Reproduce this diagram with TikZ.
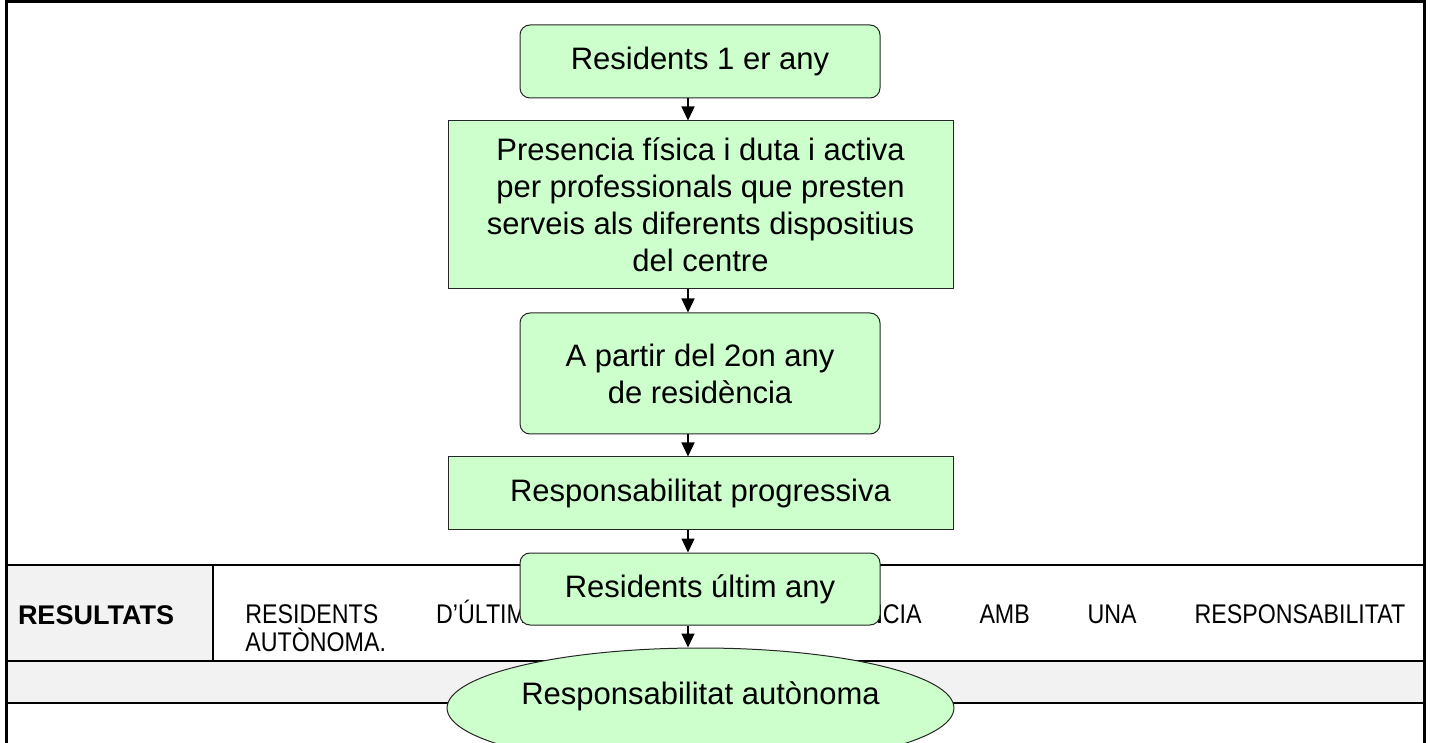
\documentclass[tikz,border=0pt]{standalone}
\usepackage{fontspec}
\setmainfont{Liberation Sans}
\newfontfamily\narrowfont[FakeStretch=0.86]{Liberation Sans}
\usetikzlibrary{shapes.geometric,arrows.meta}
\definecolor{boxgreen}{HTML}{CCFFCC}
\definecolor{cellgrey}{HTML}{F2F2F2}
\tikzset{
  greenbox/.style={draw=black!85, fill=boxgreen, line width=0.5pt, align=center,
    inner sep=0pt, font=\fontsize{15.5}{18.5}\selectfont},
  roundbox/.style={greenbox, rounded corners=5pt},
  flowarrow/.style={-{Triangle[width=6.5pt,length=7pt]}, line width=0.6pt},
  tableline/.style={line width=1pt}
}
\begin{document}
\begin{tikzpicture}[x=0.5pt,y=-0.5pt]
    \useasboundingbox (0,0) rectangle (1431,743);
    \fill[cellgrey] (6,565) rectangle (213,661); % RESULTATS cell
    \fill[cellgrey] (6,661) rectangle (1424,703); % empty grey row
    \draw[tableline] (6,565) -- (1424,565);
    \draw[tableline] (6,661) -- (1424,661);
    \draw[tableline] (6,703) -- (1424,703);
    \draw[tableline] (213,565) -- (213,661); % column divider
    \draw[line width=1.5pt] (6,743) -- (6,2) -- (1424,2) -- (1424,743); % outer frame
    \node[font=\bfseries\fontsize{13.5}{15}\selectfont] (resultats) at (96,615) {RESULTATS};
    \node[anchor=base west, inner sep=0pt, text width=580pt, align=justify,
      font=\narrowfont\fontsize{13.5}{14}\selectfont] (restext) at (245,623)
      {RESIDENTS D’ÚLTIM ANY DE RESIDÈNCIA AMB UNA RESPONSABILITAT\linebreak AUTÒNOMA.};
    % flowchart
    \coordinate (ax) at (688,0); % arrow line
    \node[roundbox, minimum width=180pt, minimum height=36.5pt] (first) at (700,61.5)
      {Residents 1 er any};
    \node[greenbox, minimum width=252.5pt, minimum height=84pt] (presencia) at (700.5,205)
      {Presencia física i duta i activa\\per professionals que presten\\serveis als diferents dispositius\\del centre};
    \node[roundbox, minimum width=180pt, minimum height=60.5pt] (second) at (700,373.5)
      {A partir del 2on any\\de residència};
    \node[greenbox, minimum width=252.5pt, minimum height=36pt] (progressiva) at (700.5,493)
      {Responsabilitat progressiva};
    \node[roundbox, minimum width=180pt, minimum height=36pt] (last) at (700,589)
      {Residents últim any};
    \node[greenbox, ellipse, minimum width=253pt, minimum height=60pt] (autonoma) at (700.5,708)
      {\raisebox{2pt}[0pt][0pt]{Responsabilitat autònoma}};
    \draw[flowarrow] (first.south -| ax) -- (presencia.north -| ax);
    \draw[flowarrow] (presencia.south -| ax) -- (second.north -| ax);
    \draw[flowarrow] (second.south -| ax) -- (progressiva.north -| ax);
    \draw[flowarrow] (progressiva.south -| ax) -- (last.north -| ax);
    \draw[flowarrow] (last.south -| ax) -- (autonoma.north -| ax);
\end{tikzpicture}
\end{document}
